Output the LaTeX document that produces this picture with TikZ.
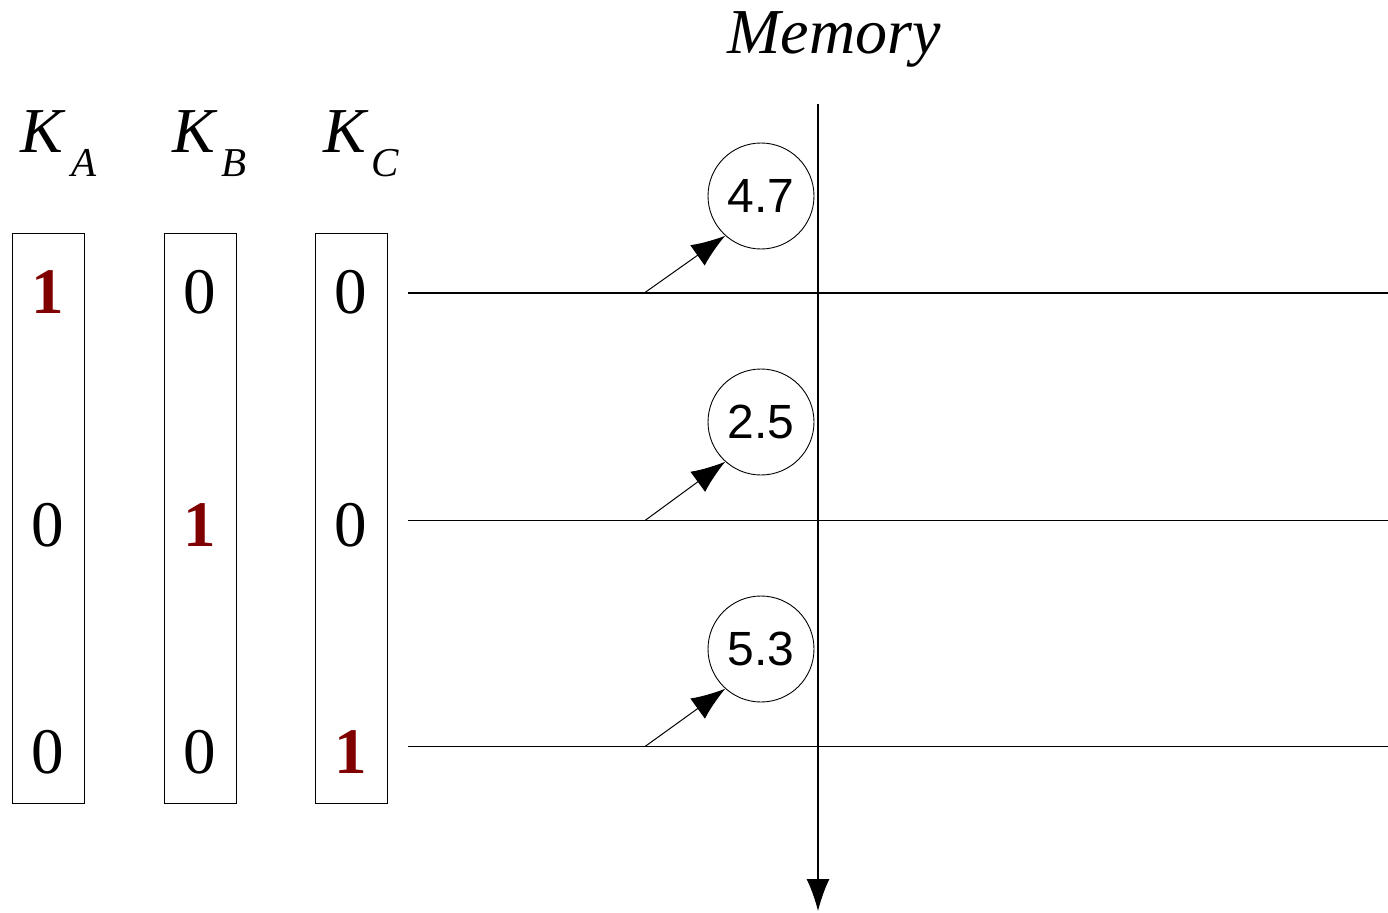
\documentclass[tikz,border=0pt]{standalone}
\usepackage{fontspec}
\setmainfont{Liberation Serif}
\newfontfamily\sansf{Liberation Sans}
\usetikzlibrary{arrows.meta}
\definecolor{darkred}{HTML}{800000}
\tikzset{
  bitbox/.style={draw, line width=1pt, minimum width=72pt, minimum height=570pt, inner sep=0pt},
  digit/.style={inner sep=0pt, font=\fontsize{65}{70}\selectfont},
  onebit/.style={digit, text=darkred, font=\fontsize{65}{70}\selectfont\bfseries},
  kname/.style={inner sep=0pt, font=\fontsize{64}{68}\selectfont\itshape},
  ksub/.style={inner sep=0pt, font=\fontsize{41}{44}\selectfont\itshape},
  valcirc/.style={draw, circle, line width=0.9pt, minimum size=106pt, inner sep=0pt, font=\sansf\fontsize{48}{52}\selectfont},
  rowline/.style={line width=1.1pt},
  ptr/.style={line width=1pt, -{Latex[length=34pt,width=25pt]}},
}
\begin{document}
\begin{tikzpicture}[x=1pt,y=-1pt]
\useasboundingbox (0,0) rectangle (1388,912);
\node[inner sep=0pt, font=\fontsize{64}{68}\selectfont\itshape] (title) at (834,39) {Memory};
% K labels
\node[kname] (ka) at (42,132) {K};
\node[ksub] (kas) at (84,163) {A};
\node[kname] (kb) at (194,132) {K};
\node[ksub] (kbs) at (234,163) {B};
\node[kname] (kc) at (345,132) {K};
\node[ksub] (kcs) at (385,163) {C};
% boxes
\node[bitbox] (ba) at (48,518) {};
\node[bitbox] (bb) at (200,518) {};
\node[bitbox] (bc) at (351,518) {};
% digits
\node[onebit] (a1) at (48,292) {1};
\node[digit] (a2) at (48,525) {0};
\node[digit] (a3) at (48,752) {0};
\node[digit] (b1) at (200,292) {0};
\node[onebit] (b2) at (200,525) {1};
\node[digit] (b3) at (200,752) {0};
\node[digit] (c1) at (351,292) {0};
\node[digit] (c2) at (351,525) {0};
\node[onebit] (c3) at (351,752) {1};
% row lines
\coordinate (l1a) at (408,292.5); \coordinate (l1b) at (1388,292.5);
\coordinate (l2a) at (408,520.5); \coordinate (l2b) at (1388,520.5);
\coordinate (l3a) at (408,746.5); \coordinate (l3b) at (1388,746.5);
\draw[rowline, line width=2pt] (l1a) -- (l1b);
\draw[rowline] (l2a) -- (l2b);
\draw[rowline] (l3a) -- (l3b);
% memory axis
\coordinate (vtop) at (818,104);
\coordinate (vbot) at (818,911);
\draw[line width=1.1pt, -{Latex[length=32pt,width=23pt]}] (vtop) -- (vbot);
% value circles
\node[valcirc] (v1) at (761,196) {4.7};
\node[valcirc] (v2) at (761,422) {2.5};
\node[valcirc] (v3) at (761,649) {5.3};
\coordinate (s1) at (645,292.5);
\coordinate (s2) at (645,520.5);
\coordinate (s3) at (645,746.5);
\draw[ptr] (s1) -- (v1.228);
\draw[ptr] (s2) -- (v2.228);
\draw[ptr] (s3) -- (v3.228);
\end{tikzpicture}
\end{document}
